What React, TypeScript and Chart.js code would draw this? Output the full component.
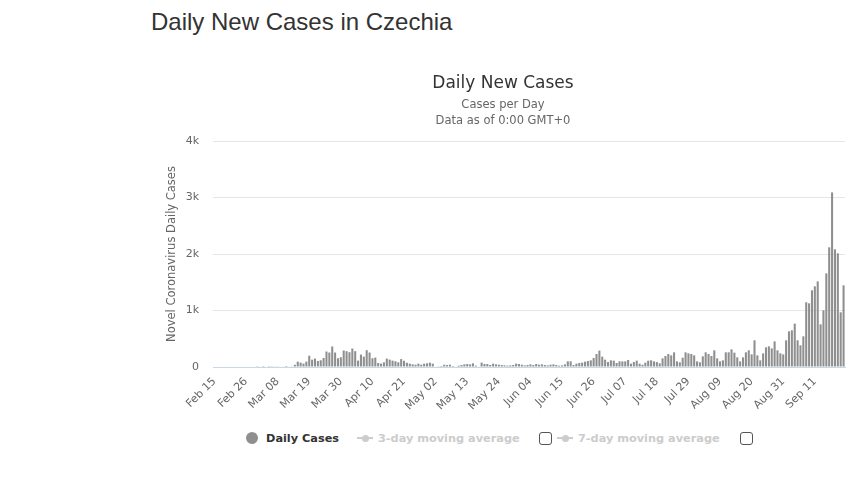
import React, { useEffect, useRef } from "react";
import { Chart, registerables } from "chart.js";

Chart.register(...registerables);

// ---- data ----
const MONTHS = ["Jan", "Feb", "Mar", "Apr", "May", "Jun", "Jul", "Aug", "Sep", "Oct", "Nov", "Dec"];
const START_DAY = Date.UTC(2020, 1, 15); // Feb 15, 2020
const DAY_COUNT = 220; // Feb 15 .. Sep 21
const TICK_EVERY = 11;

const categories: string[] = [];
for (let i = 0; i < DAY_COUNT; i++) {
  const d = new Date(START_DAY + i * 86400000);
  categories.push(MONTHS[d.getUTCMonth()] + " " + String(d.getUTCDate()).padStart(2, "0"));
}

const yTickValues = [0, 1000, 2000, 3000, 4000];
const yTickLabels = ["0", "1k", "2k", "3k", "4k"];

const dailyCases = [
  // Feb 15 - Feb 29
  0, 0, 0, 0, 0, 0, 0, 0, 0, 0, 0, 0, 0, 0, 0,
  // Mar 1 - Mar 13
  3, 0, 2, 0, 3, 4, 7, 12, 9, 10, 18, 8, 12,
  // Mar 14 - Mar 18
  40, 95, 77, 60, 95,
  // Mar 19 - Mar 28
  200, 130, 150, 107, 119, 160, 274, 256, 363, 256,
  // Mar 29 - Apr 7
  155, 173, 292, 280, 262, 327, 280, 113, 220, 184,
  // Apr 8 - Apr 17
  298, 256, 155, 167, 71, 60, 83, 149, 131, 113,
  // Apr 18 - Apr 22
  101, 83, 140, 110, 75,
  // Apr 23 - Jul 12
  59, 47, 41, 59, 41, 59, 65, 77, 59, 10,
  5, 18, 41, 35, 41, 18, 10, 24, 35, 47,
  53, 47, 65, 24, 10, 77, 53, 53, 35, 59,
  47, 41, 35, 29, 24, 29, 35, 59, 53, 41,
  29, 35, 47, 35, 53, 41, 47, 35, 29, 41,
  47, 35, 24, 29, 47, 100, 100, 35, 59, 71,
  77, 94, 106, 118, 160, 230, 290, 183, 130, 88,
  118, 112, 71, 100, 100, 100, 124, 59, 88, 112,
  59,
  // Jul 13 - Sep 21
  40, 77, 112, 118, 100, 88, 65, 153, 195, 230,
  206, 260, 100, 83, 165, 260, 242, 230, 206, 100,
  83, 189, 260, 230, 195, 295, 153, 100, 118, 260,
  260, 313, 254, 171, 100, 171, 260, 295, 224, 472,
  206, 118, 242, 348, 366, 330, 454, 295, 242, 224,
  472, 631, 649, 767, 472, 384, 543, 1145, 1127, 1357,
  1428, 1516, 755, 1003, 1658, 2118, 3090, 2083, 2012, 968,
  1446,
];

const FONT = "'DejaVu Sans', Verdana, sans-serif";

export default function App() {
  const ref = useRef<HTMLCanvasElement | null>(null);

  useEffect(() => {
    if (!ref.current) return;
    const chart = new Chart(ref.current, {
      type: "bar",
      data: {
        labels: categories,
        datasets: [
          {
            label: "Daily Cases",
            data: dailyCases,
            backgroundColor: "#8f8f8f",
            borderWidth: 0,
            barPercentage: 0.72,
            categoryPercentage: 1.0,
          },
        ],
      },
      options: {
        responsive: false,
        animation: false,
        layout: { padding: { left: 0, right: 12, top: 0, bottom: 0 } },
        plugins: {
          legend: { display: false },
          tooltip: { enabled: false },
          title: {
            display: true,
            text: "Daily New Cases",
            color: "#333333",
            font: { family: FONT, size: 17, weight: "normal", lineHeight: 1.2 },
            padding: { top: 13, bottom: 4 },
          },
          subtitle: {
            display: true,
            text: ["Cases per Day", "Data as of 0:00 GMT+0"],
            color: "#666666",
            font: { family: FONT, size: 11.5, weight: "normal", lineHeight: "16px" },
            padding: { top: 0, bottom: 11.6 },
          },
        },
        scales: {
          x: {
            grid: { display: false, drawTicks: false },
            border: { display: true, color: "#ccd6eb", width: 1 },
            ticks: {
              autoSkip: false,
              minRotation: 45,
              maxRotation: 45,
              padding: 8,
              color: "#666666",
              font: { family: FONT, size: 11 },
              callback: (_v: any, idx: number) => (idx % TICK_EVERY === 0 ? categories[idx] : null),
            },
            afterFit: (scale: any) => {
              scale.height = 63;
            },
          },
          y: {
            min: 0,
            max: 4000,
            afterBuildTicks: (scale: any) => {
              scale.ticks = yTickValues.map((v) => ({ value: v }));
            },
            grid: { color: "#e6e6e6", drawTicks: false, lineWidth: 1 },
            border: { display: false },
            ticks: {
              padding: 14,
              color: "#666666",
              font: { family: FONT, size: 11 },
              callback: (v: any) => yTickLabels[yTickValues.indexOf(Number(v))] ?? "",
            },
            title: {
              display: true,
              text: "Novel Coronavirus Daily Cases",
              color: "#666666",
              font: { family: FONT, size: 11.5, weight: "normal" },
              padding: { top: 4, bottom: 0 },
            },
            afterFit: (scale: any) => {
              scale.width = 52;
            },
          },
        },
      },
    } as any);
    return () => chart.destroy();
  }, []);

  const legendText: React.CSSProperties = {
    position: "absolute",
    top: 431,
    lineHeight: "14px",
    fontFamily: FONT,
    fontSize: "11.3px",
    fontWeight: "bold",
    whiteSpace: "nowrap",
  };
  const checkbox = (left: number): React.CSSProperties => ({
    position: "absolute",
    left,
    top: 432,
    width: 11,
    height: 11,
    border: "1px solid #555",
    borderRadius: 3,
    background: "#fff",
  });
  const symbolLine = (left: number): React.CSSProperties => ({
    position: "absolute",
    left,
    top: 437,
    width: 16,
    height: 2,
    background: "#cccccc",
  });
  const symbolDot = (left: number): React.CSSProperties => ({
    position: "absolute",
    left,
    top: 435,
    width: 7,
    height: 7,
    borderRadius: "50%",
    background: "#cccccc",
  });

  return (
    <div style={{ position: "absolute", left: 0, top: 0, width: 868, height: 486, overflow: "hidden", background: "#fff" }}>
      <div
        style={{
          position: "absolute",
          left: 151,
          top: 10,
          fontFamily: "'Liberation Sans', Arial, sans-serif",
          fontSize: 24,
          lineHeight: "24px",
          color: "#333",
          whiteSpace: "nowrap",
        }}
      >
        Daily New Cases in Czechia
      </div>
      <canvas
        ref={ref}
        width={696}
        height={370}
        style={{ position: "absolute", left: 161, top: 60, width: 696, height: 370 }}
      />
      <div style={{ position: "absolute", left: 246, top: 432, width: 12, height: 12, borderRadius: "50%", background: "#8f8f8f" }} />
      <div style={{ ...legendText, left: 266, top: 432, color: "#333" }}>Daily Cases</div>
      <div style={symbolLine(357)} />
      <div style={symbolDot(361.5)} />
      <div style={{ ...legendText, left: 378, top: 432, color: "#cccccc" }}>3-day moving average</div>
      <div style={checkbox(539)} />
      <div style={symbolLine(557)} />
      <div style={symbolDot(561.5)} />
      <div style={{ ...legendText, left: 578, top: 432, color: "#cccccc" }}>7-day moving average</div>
      <div style={checkbox(740)} />
    </div>
  );
}
